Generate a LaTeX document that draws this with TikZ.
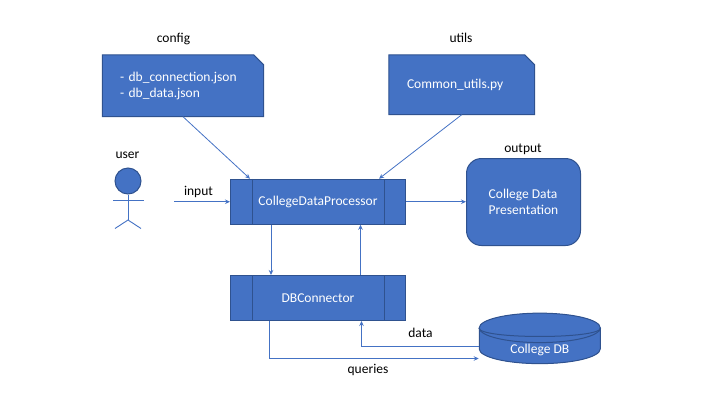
\documentclass[tikz,border=0pt]{standalone}
\usepackage{fontspec}
\setmainfont{Carlito}
\usetikzlibrary{calc,backgrounds,shapes.geometric,arrows.meta}
\definecolor{boxfill}{HTML}{4472C4}
\definecolor{boxline}{HTML}{2F528F}
\tikzset{
  x=1pt,y=-1pt,
  every node/.style={font=\fontsize{13.5}{16}\selectfont,inner sep=0pt},
  captext/.style={text=black,anchor=base},
  solid box/.style={fill=boxfill,draw=boxline,line width=1pt},
  procbox/.style={solid box,text=white,minimum width=175pt,minimum height=45pt},
  notetext/.style={text=white,align=left},
  divider/.style={draw=boxline,line width=1pt},
  conn/.style={draw=boxfill,line width=0.8pt,-{Stealth[length=5pt,width=4.5pt]}},
  limb/.style={draw=boxfill,line width=0.9pt},
}
\begin{document}
\begin{tikzpicture}
\useasboundingbox (0,0) rectangle (720,405);

% note boxes
\node[notetext,minimum width=161pt,minimum height=61.5pt,text width=126pt,inner xsep=17.5pt] (cfg) at (183,85.75) {- db\_connection.json\\- db\_data.json};
\node[notetext,minimum width=145.5pt,minimum height=59.5pt,text width=109.5pt,inner xsep=18pt] (utl) at (461.75,84.75) {Common\_utils.py};
\begin{scope}[on background layer]
  \draw[solid box] (cfg.south west) -- (cfg.north west) -- ($(cfg.north east)+(-10,0)$) -- ($(cfg.north east)+(0,10)$) -- (cfg.south east) -- cycle;
  \draw[solid box] (utl.south west) -- (utl.north west) -- ($(utl.north east)+(-10,0)$) -- ($(utl.north east)+(0,10)$) -- (utl.south east) -- cycle;
\end{scope}

% process boxes
\node[procbox] (proc) at (318,201.75) {CollegeDataProcessor};
\node[procbox] (dbc) at (318,298) {DBConnector};
\foreach \b in {proc,dbc}{
  \draw[divider] ($(\b.north west)+(22,0)$) -- ($(\b.south west)+(22,0)$);
  \draw[divider] ($(\b.north east)+(-22,0)$) -- ($(\b.south east)+(-22,0)$);
}

% output
\node[solid box,text=white,align=left,rounded corners=15pt,minimum width=114pt,minimum height=87pt] (out) at (523.5,202) {College Data\\Presentation};

% database
\node[solid box,text=white,cylinder,shape border rotate=90,aspect=0.5,cylinder uses custom fill,cylinder body fill=boxfill,cylinder end fill=boxfill,minimum width=121pt,minimum height=50.5pt] (db) at (539.75,346) {\raisebox{-7pt}[0pt][0pt]{College DB}};
\draw[divider] (db.before top) .. controls ($(db.before top)+(0,11.5)$) and ($(db.after top)+(0,11.5)$) .. (db.after top);

% user
\node[solid box,circle,minimum size=26pt] (head) at (128,181) {};
\coordinate (hip) at (128,220);
\coordinate (armL) at (113,200.5);
\coordinate (armR) at (143.5,200.5);
\coordinate (legL) at (115,228.5);
\coordinate (legR) at (141,228.5);
\coordinate (inStart) at (174,201.75);
\draw[limb] (head.south) -- (hip);
\draw[limb] (armL) -- (armR);
\draw[limb] (legL) -- (hip) -- (legR);

% captions
\node[captext] (capcfg) at (173.5,42) {config};
\node[captext] (caputl) at (461,42) {utils};
\node[captext] (capusr) at (127.5,158.5) {user};
\node[captext] (capin) at (198.5,195) {input};
\node[captext] (capout) at (523,152) {output};
\node[captext] (capdata) at (420.5,337) {data};
\node[captext] (capq) at (368,373) {queries};

% connectors
\draw[conn] (cfg.south) -- ($(proc.north west)+(20,0)$);
\draw[conn] (utl.south) -- ($(proc.north east)+(-27,0)$);
\draw[conn] (inStart) -- (proc.west);
\draw[conn] (proc.east) -- (proc.east -| out.west);
\draw[conn] ($(proc.south west)+(41,0)$) -- ($(dbc.north west)+(41,0)$);
\draw[conn] ($(dbc.north east)+(-45.5,0)$) -- ($(proc.south east)+(-45.5,0)$);
\draw[conn] ($(dbc.south west)+(39.5,0)$) |- ($(db.west)+(0,12.5)$);
\draw[conn] (db.west) -| ($(dbc.south east)+(-44.5,0)$);
\end{tikzpicture}
\end{document}
